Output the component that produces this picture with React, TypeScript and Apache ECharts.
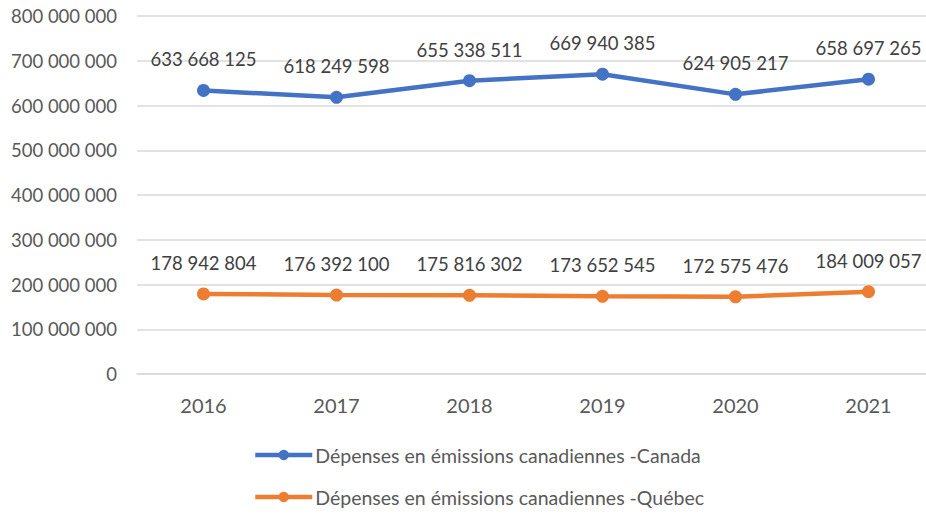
import React, { useEffect, useRef } from "react";
import * as echarts from "echarts";

const years = ["2016", "2017", "2018", "2019", "2020", "2021"];
const canada = [633668125, 618249598, 655338511, 669940385, 624905217, 658697265];
const quebec = [178942804, 176392100, 175816302, 173652545, 172575476, 184009057];
const seriesNames = [
  "Dépenses en émissions canadiennes -Canada",
  "Dépenses en émissions canadiennes -Québec",
];

const fmt = (v: number) =>
  String(Math.round(v)).replace(/\B(?=(\d{3})+(?!\d))/g, " ");

export default function App() {
  const ref = useRef<HTMLDivElement>(null);
  useEffect(() => {
    if (!ref.current) return;
    const chart = echarts.init(ref.current, null, { renderer: "svg" });
    const font = "Lato, 'Noto Sans', sans-serif";
    const labelCfg = {
      show: true,
      position: "top" as const,
      distance: 15,
      fontFamily: font,
      fontSize: 18.5,
      color: "#404040",
      formatter: (p: any) => fmt(p.value),
    };
    chart.setOption({
      animation: false,
      backgroundColor: "#ffffff",
      grid: { left: 137, right: 0, top: 16, bottom: 140, containLabel: false },
      legend: {
        orient: "vertical",
        left: 253,
        top: 445,
        padding: 0,
        itemWidth: 57,
        itemHeight: 13,
        itemGap: 22,
        lineStyle: { width: 4.5 },
        textStyle: { fontFamily: font, fontSize: 19.5, color: "#595959", padding: [0, 0, 0, -2] },
        data: seriesNames,
      },
      xAxis: {
        type: "category",
        data: years,
        boundaryGap: true,
        axisLine: { show: true, lineStyle: { color: "#d9d9d9", width: 1.5 } },
        axisTick: { show: false },
        axisLabel: { margin: 21, fontFamily: font, fontSize: 20, color: "#595959" },
      },
      yAxis: {
        type: "value",
        min: 0,
        max: 800000000,
        interval: 100000000,
        axisLine: { show: false },
        axisTick: { show: false },
        splitLine: { lineStyle: { color: "#d9d9d9", width: 1.5 } },
        axisLabel: {
          margin: 20,
          fontFamily: font,
          fontSize: 18.5,
          color: "#595959",
          formatter: (v: number) => fmt(v),
        },
      },
      series: [
        {
          name: seriesNames[0],
          type: "line",
          data: canada,
          color: "#4472C4",
          lineStyle: { width: 4.5, color: "#4472C4" },
          symbol: "circle",
          symbolSize: 13,
          itemStyle: { color: "#4472C4" },
          label: labelCfg,
        },
        {
          name: seriesNames[1],
          type: "line",
          data: quebec,
          color: "#ED7D31",
          lineStyle: { width: 4.5, color: "#ED7D31" },
          symbol: "circle",
          symbolSize: 13,
          itemStyle: { color: "#ED7D31" },
          label: labelCfg,
        },
      ],
    });
    return () => chart.dispose();
  }, []);
  return (
    <div
      ref={ref}
      style={{ position: "fixed", left: 0, top: 0, width: 935, height: 514 }}
    />
  );
}
